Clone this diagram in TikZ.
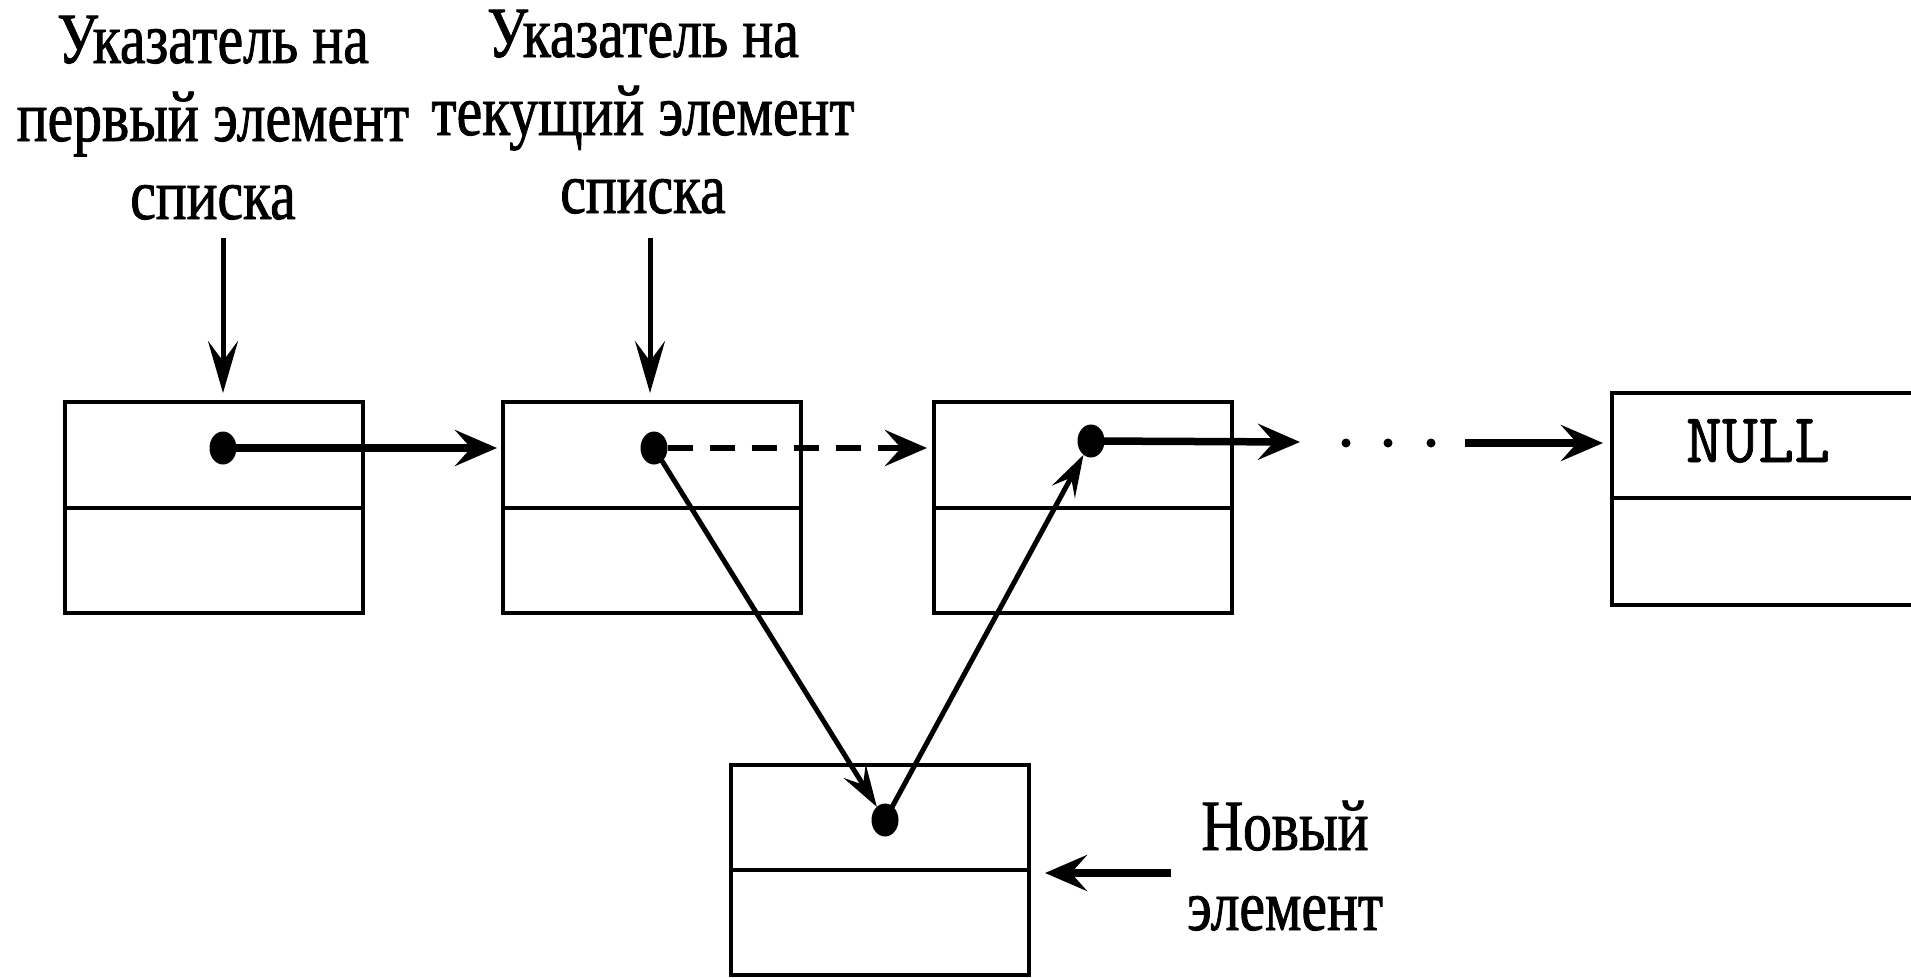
\documentclass[tikz,border=0pt]{standalone}
\usepackage{fontspec}
\setmainfont{Liberation Serif}
\newfontfamily\narrowserif[FakeStretch=0.8,FakeBold=1.2]{Liberation Serif}
\newfontfamily\nullmono[FakeBold=1]{Latin Modern Mono}
\usetikzlibrary{arrows.meta,shapes.geometric}
\begin{document}
\begin{tikzpicture}[x=1pt,y=-1pt,
  cell/.style={draw, rectangle, line width=4pt, minimum width=298pt, inner sep=0pt, outer sep=0pt, anchor=north west},
  ptr/.style={ellipse, fill=black, minimum width=27pt, minimum height=33pt, inner sep=0pt, outer sep=0pt},
  lbl/.style={font=\narrowserif\fontsize{72}{78}\selectfont, align=center, inner sep=0pt},
  downarrow/.style={line width=5pt, -{Stealth[length=52pt,width=30pt,inset=20pt]}},
  linkarrow/.style={line width=7.5pt, -{Stealth[length=42pt,width=36pt,inset=16pt]}},
  slantarrow/.style={line width=5pt, -{Stealth[length=42pt,width=26pt,inset=16pt]}},
  dasharrow/.style={line width=6.5pt, dash pattern=on 25pt off 17pt, -{Stealth[length=42pt,width=36pt,inset=16pt]}},
  dotmark/.style={circle, fill=black, minimum size=9pt, inner sep=0pt}
]
\useasboundingbox (0,0) rectangle (1911,977);

% labels
\node[lbl, anchor=base] (lab1) at (213,219) {Указатель на\\первый элемент\\списка};
\node[lbl, anchor=base] (lab2) at (643,213) {Указатель на\\текущий элемент\\списка};

% list elements
\node[cell, minimum height=106pt] (b1t) at (65,402) {};
\node[cell, minimum height=105pt] (b1b) at (65,508) {};
\node[cell, minimum height=106pt] (b2t) at (503,402) {};
\node[cell, minimum height=105pt] (b2b) at (503,508) {};
\node[cell, minimum height=106pt] (b3t) at (934,402) {};
\node[cell, minimum height=105pt] (b3b) at (934,508) {};
\node[cell, minimum height=105pt, minimum width=305pt] (nt) at (1612,393) {};
\node[cell, minimum height=107pt, minimum width=305pt] (nb) at (1612,498) {};
\node[font=\nullmono\fontsize{70}{80}\selectfont, anchor=base, inner sep=0pt] (nulltxt) at (1758,462) {NULL};

% new element
\node[cell, minimum height=105pt] (ct) at (731,765) {};
\node[cell, minimum height=105pt] (cb) at (731,870) {};
\node[lbl, anchor=base, font=\narrowserif\fontsize{72}{80}\selectfont] (newlab) at (1285,930) {Новый\\элемент};

% pointers
\node[ptr] (d1) at (223,448) {};
\node[ptr] (d2) at (654,448) {};
\node[ptr] (d3) at (1091,441) {};
\node[ptr] (dn) at (885,820) {};

% dots
\node[dotmark] (e1) at (1346,443) {};
\node[dotmark] (e2) at (1388,443) {};
\node[dotmark] (e3) at (1431,443) {};

\coordinate (s1) at (223,238);
\coordinate (s2) at (650,238);
\coordinate (c1) at (1300,442);
\coordinate (c2) at (1465,443);
\coordinate (c3) at (1171,873);

\draw[downarrow, shorten >=9pt] (s1) -- (s1 |- b1t.north);
\draw[downarrow, shorten >=9pt] (s2) -- (s2 |- b2t.north);
\draw[linkarrow, shorten >=6pt] (d1.center) -- (d1 -| b2t.west);
\draw[dasharrow, shorten >=7pt] (d2.east) -- (d2 -| b3t.west);
\draw[slantarrow] (d2.center) -- (dn);
\draw[slantarrow] (dn.center) -- (d3);
\draw[linkarrow] (d3.center) -- (c1);
\draw[linkarrow, shorten >=9pt] (c2) -- (c2 -| nt.west);
\draw[linkarrow, shorten >=16pt] (c3) -- (c3 -| ct.east);
\end{tikzpicture}
\end{document}
